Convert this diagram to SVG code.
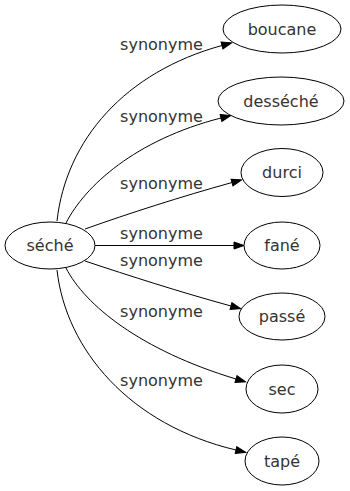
<svg xmlns="http://www.w3.org/2000/svg" width="350" height="491" viewBox="0 0 350 491">
<style>
.node ellipse{fill:#fff;stroke:#000;stroke-width:1}
text{font-family:"DejaVu Sans",sans-serif;font-size:16px;fill:#333;text-anchor:middle}
.edges path{fill:none;stroke:#000;stroke-width:1;marker-end:url(#arr)}
</style>
<defs>
<marker id="arr" markerUnits="userSpaceOnUse" markerWidth="10" markerHeight="7" refX="0" refY="3.5" orient="auto" overflow="visible">
<path d="M0,0 L10,3.5 L0,7 Z" fill="#000" stroke="#000" stroke-width="1"/>
</marker>
</defs>
<g class="edges" id="edges">
<path d="M57,221 C66,140 125,72 222,45.5"/>
<path d="M66,223 C85,186 135,140 221,118"/>
<path d="M85,229 C130,213 180,197 232,182.5"/>
<path d="M95,245.5 L234,245.5"/>
<path d="M85,261 C130,276 180,292 231,306"/>
<path d="M66,268 C85,305 140,350 236,379"/>
<path d="M57,270 C66,350 130,425 236,450"/>
</g>
<g id="labels">
<text x="161.5" y="50">synonyme</text>
<text x="161.5" y="122">synonyme</text>
<text x="161.5" y="189">synonyme</text>
<text x="161.5" y="239">synonyme</text>
<text x="161.5" y="266">synonyme</text>
<text x="161.5" y="317">synonyme</text>
<text x="161.5" y="386">synonyme</text>
</g>
<g class="node" id="seche"><ellipse cx="50" cy="245.5" rx="45" ry="23.5"/><text x="50" y="251">séché</text></g>
<g class="node" id="boucane"><ellipse cx="282" cy="29" rx="59" ry="24"/><text x="282" y="35">boucane</text></g>
<g class="node" id="desseche"><ellipse cx="281" cy="101" rx="63" ry="24"/><text x="281" y="107">desséché</text></g>
<g class="node" id="durci"><ellipse cx="282" cy="172.5" rx="41" ry="24"/><text x="282" y="178">durci</text></g>
<g class="node" id="fane"><ellipse cx="282" cy="245.5" rx="38" ry="23.5"/><text x="282" y="251">fané</text></g>
<g class="node" id="passe"><ellipse cx="282" cy="316.5" rx="43" ry="23.5"/><text x="282" y="322">passé</text></g>
<g class="node" id="sec"><ellipse cx="282" cy="389" rx="36" ry="24"/><text x="282" y="395">sec</text></g>
<g class="node" id="tape"><ellipse cx="282" cy="461" rx="37" ry="24"/><text x="282" y="467">tapé</text></g>
</svg>
